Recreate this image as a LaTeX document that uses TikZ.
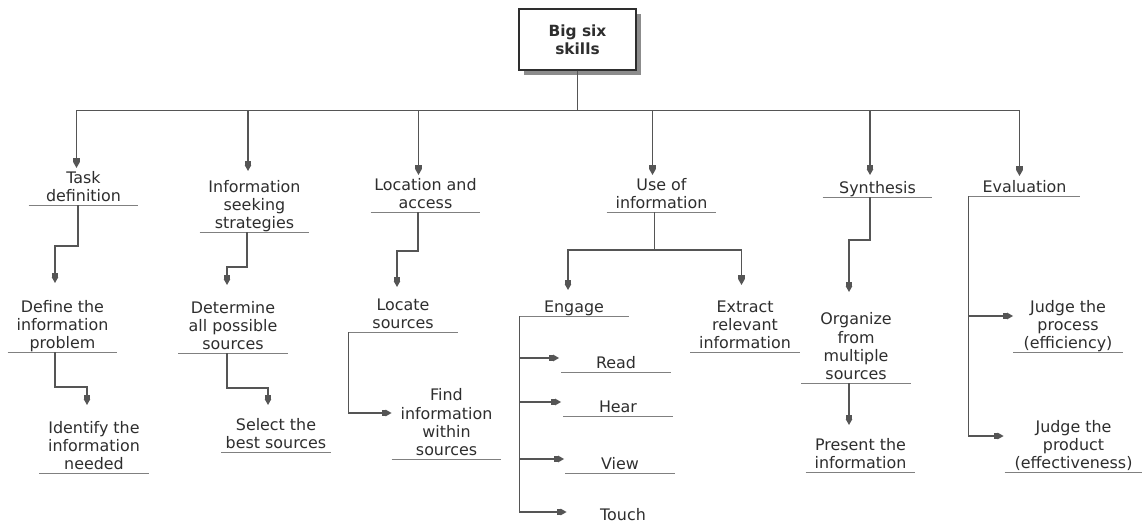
\documentclass[tikz,border=0pt]{standalone}
\usepackage{fontspec}
\setmainfont{DejaVu Sans}
\usetikzlibrary{arrows.meta,calc,shadows}
\definecolor{linec}{HTML}{555555}
\definecolor{rulec}{HTML}{808080}
\definecolor{textc}{HTML}{2E2E2E}
\definecolor{shadec}{HTML}{8C8C8C}
% stacked, centred lines whose baseline is the last line
\newcommand{\stk}[1]{\begin{tabular}[b]{@{}c@{}}#1\end{tabular}}
\begin{document}
\begin{tikzpicture}[x=0.5pt,y=-0.5pt,
  rootbox/.style={draw=textc, line width=0.75pt, fill=white,
    minimum width=58.5pt, minimum height=30.5pt, inner sep=0pt,
    align=center, text=textc, font=\bfseries\fontsize{7.7}{9}\selectfont,
    drop shadow={shadow xshift=2.5pt, shadow yshift=-2.5pt, fill=shadec, opacity=1}},
  plain text/.style={font=\fontsize{7.95}{9.15}\selectfont, text=textc,
    inner sep=0pt, text depth=1.4pt, minimum width=54.5pt, anchor=south},
  topic/.style={plain text,
    append after command={(\tikzlastnode.south west) edge[draw=rulec, line width=0.5pt] (\tikzlastnode.south east)}},
  conn/.style={draw=linec, line width=0.6pt,
    -{Rectangle[length=2pt,width=3.2pt,sep=0pt]Triangle[length=3pt,width=3.2pt,sep=0pt]}}
]
\fill[white] (0,0) rectangle (1143,524);
\useasboundingbox (0,0) rectangle (1143,524);

% root
\node[rootbox] (root) at (577.5,39.5) {Big six\\skills};

% the six skills
\node[topic] (td) at (83.5,205) {\stk{Task\\definition}};
\node[topic] (is) at (254.5,232) {\stk{Information\\seeking\\strategies}};
\node[topic] (la) at (425.5,212) {\stk{Location and\\access}};
\node[topic] (ui) at (661.5,212) {\stk{Use of\\information}};
\node[topic] (sy) at (877.5,197) {\stk{Synthesis}};
\node[topic, minimum width=55.5pt] (ev) at (1024.5,196) {\stk{Evaluation}};

% second level
\node[topic] (dp) at (62.5,352) {\stk{Define the\\information\\problem}};
\node[topic] (ds) at (233,353) {\stk{Determine\\all possible\\sources}};
\node[topic] (ls) at (403,332) {\stk{Locate\\sources}};
\node[topic] (en) at (574,316) {\stk{Engage}};
\node[topic] (ex) at (745,352) {\stk{Extract\\relevant\\information}};
\node[topic] (og) at (856,383) {\stk{Organize\\from\\multiple\\sources}};
\node[topic] (jp) at (1068,352) {\stk{Judge the\\process\\(efficiency)}};
\node[topic, minimum width=68.5pt] (jd) at (1073.5,472) {\stk{Judge the\\product\\(effectiveness)}};

% third level
\node[topic] (ii) at (94,473) {\stk{Identify the\\information\\needed}};
\node[topic] (sb) at (276,452) {\stk{Select the\\best sources}};
\node[topic] (fi) at (446.5,459) {\stk{Find\\information\\within\\sources}};
\node[topic] (rd) at (616,372) {\stk{Read}};
\node[topic] (hr) at (618,416) {\stk{Hear}};
\node[topic] (vw) at (620,473) {\stk{View}};
\node[plain text] (tc) at (623,523.5) {\stk{Touch}};
\node[topic] (pi) at (860.5,472) {\stk{Present the\\information}};

% root to skills
\draw[conn] (root.south) -- ++(0,40) -| ($(td.south)+(-7,-37)$);
\draw[conn] (root.south) -- ++(0,40) -| ($(is.south)+(-6.5,-61)$);
\draw[conn] (root.south) -- ++(0,40) -| ($(la.south)+(-7,-37)$);
\draw[conn] (root.south) -- ++(0,40) -| ($(ui.south)+(-9,-37)$);
\draw[conn] (root.south) -- ++(0,40) -| ($(sy.south)+(-7.5,-22)$);
\draw[conn] (root.south) -- ++(0,40) -| ($(ev.south)+(-5,-20)$);

% skills to sub-skills
\draw[conn] ($(td.south)+(-5.5,0)$) -- ++(0,41) -| ($(dp.south)+(-7.5,-69)$);
\draw[conn] ($(is.south)+(-7.5,0)$) -- ++(0,35) -| ($(ds.south)+(-6,-68)$);
\draw[conn] ($(la.south)+(-7.5,0)$) -- ++(0,39) -| ($(ls.south)+(-6,-45)$);
\draw[conn] ($(ui.south)+(-7,0)$) -- ++(0,38) -| ($(en.south)+(-6,-26)$);
\draw[conn] ($(ui.south)+(-7,0)$) -- ++(0,38) -| ($(ex.south)+(-3.5,-67)$);
\draw[conn] ($(sy.south)+(-7.5,0)$) -- ++(0,43) -| ($(og.south)+(-7,-91)$);
\draw[conn] (ev.south west) |- ($(jp.south west)+(0,-36)$);
\draw[conn] (ev.south west) |- ($(jd.south west)+(-1,-36)$);

% third level links
\draw[conn] ($(dp.south)+(-7.5,0)$) -- ++(0,35) -| ($(ii.south)+(-7,-68)$);
\draw[conn] ($(ds.south)+(-6,0)$) -- ++(0,35) -| ($(sb.south)+(-8,-47)$);
\draw[conn] (ls.south west) |- ($(fi.south west)+(0,-46)$);
\draw[conn] (en.south west) |- ($(rd.south west)+(-2,-14)$);
\draw[conn] (en.south west) |- ($(hr.south west)+(-2,-14)$);
\draw[conn] (en.south west) |- ($(vw.south west)+(-1,-14)$);
\draw[conn] (en.south west) |- ($(tc.south west)+(-1.5,-11.5)$);
\draw[conn] ($(og.south)+(-7,0)$) -- ($(pi.south)+(-11.5,-47)$);
\end{tikzpicture}
\end{document}
